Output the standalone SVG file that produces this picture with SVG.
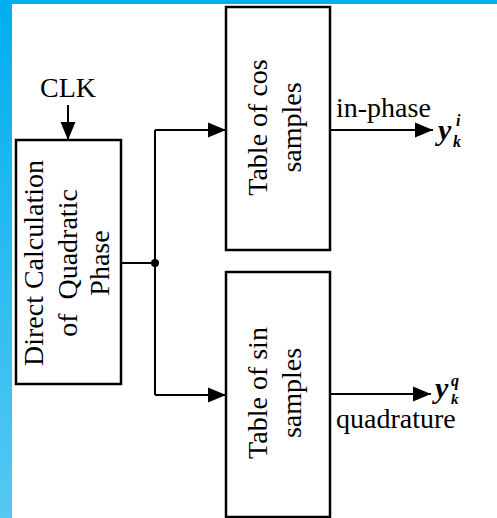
<svg xmlns="http://www.w3.org/2000/svg" width="497" height="518" viewBox="0 0 497 518">
<defs>
<linearGradient id="bg" x1="0" y1="0" x2="0" y2="1">
<stop offset="0" stop-color="#00AEEF"/>
<stop offset="1" stop-color="#55C8F2"/>
</linearGradient>
<marker id="ah" markerUnits="userSpaceOnUse" markerWidth="18" markerHeight="16" refX="18" refY="8" orient="auto">
<path d="M0,0.5 L18,8 L0,15.5 z" fill="#000"/>
</marker>
<style>
.box{fill:#fff;stroke:#000;stroke-width:2.5}
.ln{fill:none;stroke:#000;stroke-width:2}
.t{font-family:"Liberation Serif","Times New Roman",serif;font-size:28px;fill:#000}
.m{font-family:"Liberation Serif","Times New Roman",serif;font-weight:bold;font-style:italic;fill:#000}
</style>
</defs>
<rect x="0" y="0" width="497" height="518" fill="url(#bg)"/>
<rect x="12" y="4" width="485" height="514" fill="#fff"/>

<g id="connectors">
<line class="ln" x1="68" y1="105" x2="68" y2="140" marker-end="url(#ah)"/>
<line class="ln" x1="121" y1="263" x2="155" y2="263"/>
<line class="ln" x1="155" y1="130" x2="155" y2="395"/>
<line class="ln" x1="155" y1="130" x2="226" y2="130" marker-end="url(#ah)"/>
<line class="ln" x1="155" y1="395" x2="226" y2="395" marker-end="url(#ah)"/>
<circle cx="155" cy="263" r="4" fill="#000"/>
<line class="ln" x1="330" y1="130" x2="433" y2="130" marker-end="url(#ah)"/>
<line class="ln" x1="330" y1="394" x2="431" y2="394" marker-end="url(#ah)"/>
</g>

<g id="clk">
<text class="t" x="68" y="97" text-anchor="middle">CLK</text>
</g>

<g id="phase">
<rect class="box" x="16" y="140" width="105" height="244"/>
<text class="t" text-anchor="middle" transform="translate(43,263) rotate(-90)">Direct Calculation</text>
<text class="t" text-anchor="middle" transform="translate(77,263) rotate(-90)" xml:space="preserve">of  Quadratic</text>
<text class="t" text-anchor="middle" transform="translate(109,263) rotate(-90)">Phase</text>
</g>

<g id="cos">
<rect class="box" x="226" y="7" width="104" height="243"/>
<text class="t" text-anchor="middle" transform="translate(267,127.5) rotate(-90)">Table of cos</text>
<text class="t" text-anchor="middle" transform="translate(301,127.5) rotate(-90)">samples</text>
</g>

<g id="sin">
<rect class="box" x="226" y="272" width="104" height="245"/>
<text class="t" text-anchor="middle" transform="translate(267,393) rotate(-90)">Table of sin</text>
<text class="t" text-anchor="middle" transform="translate(301,393) rotate(-90)">samples</text>
</g>

<g id="out-i">
<text class="t" x="336" y="117">in-phase</text>
<text class="m" x="438" y="140" font-size="30">y</text>
<text class="m" x="456" y="126" font-size="16">i</text>
<text class="m" x="453" y="147" font-size="16">k</text>
</g>

<g id="out-q">
<text class="m" x="435" y="398" font-size="30">y</text>
<text class="m" x="451" y="386" font-size="16">q</text>
<text class="m" x="451" y="404" font-size="15">k</text>
<text class="t" x="336" y="428">quadrature</text>
</g>
</svg>
